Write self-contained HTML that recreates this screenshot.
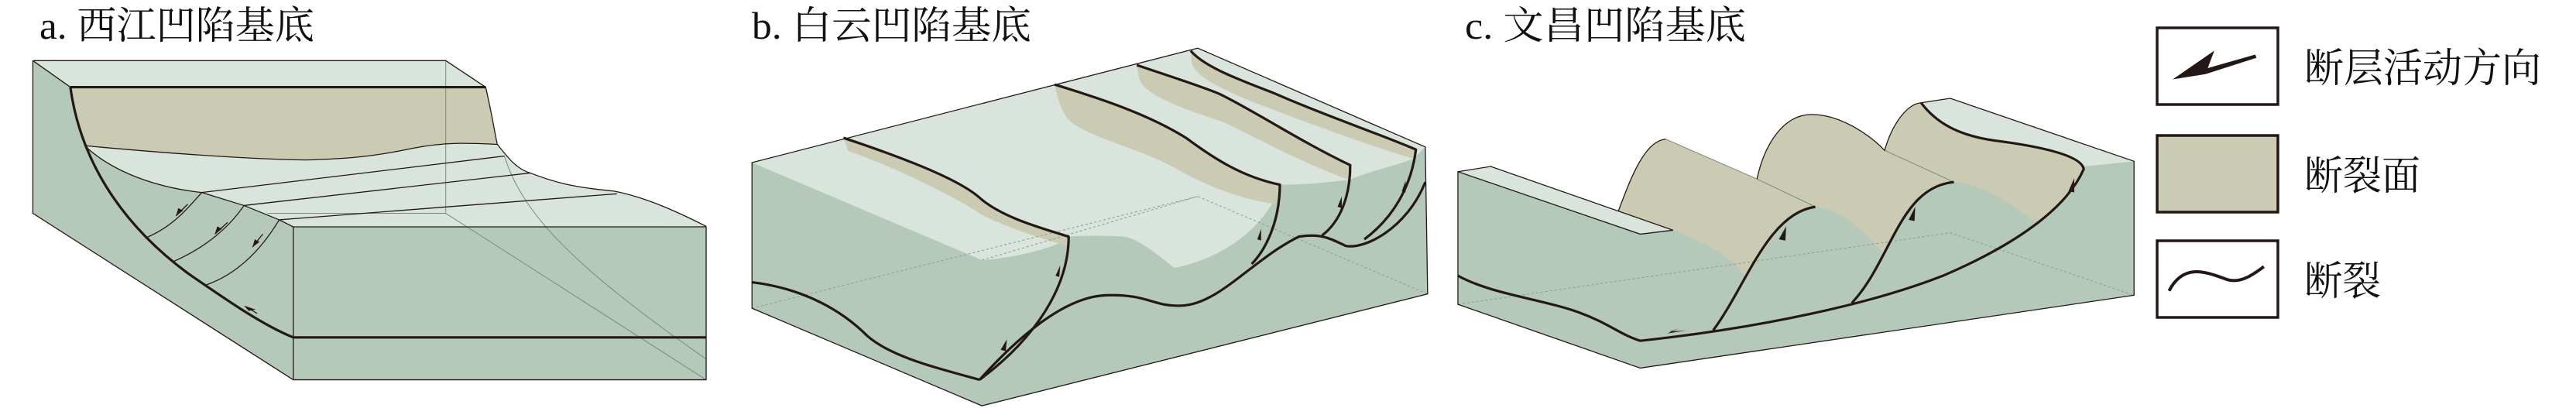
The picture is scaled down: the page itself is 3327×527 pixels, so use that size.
<!DOCTYPE html>
<html><head><meta charset="utf-8"><style>
html,body{margin:0;padding:0;background:#fff;}
svg{display:block;}
text{font-family:"Liberation Serif","Noto Serif CJK SC","Noto Sans CJK SC",serif;fill:#111;}
</style></head><body>
<svg width="3327" height="527" viewBox="0 0 3327 527" xmlns="http://www.w3.org/2000/svg">
<defs><style>
.b{fill:none;stroke:#231815;stroke-width:3.2;vector-effect:non-scaling-stroke;stroke-linejoin:round}
.t{fill:none;stroke:#231815;stroke-width:1.3;vector-effect:non-scaling-stroke}
.h{fill:none;stroke:#7a8a80;stroke-width:1;vector-effect:non-scaling-stroke}
.d{fill:none;stroke:#8a9a90;stroke-width:1;stroke-dasharray:3 3;vector-effect:non-scaling-stroke}
.g{fill:#b4c9b9}.l{fill:#d9e4dc}.n{fill:#cbcab2}
.a{fill:#231815}
</style></defs>

<!-- Titles -->
<text x="51" y="50" font-size="50" textLength="355" lengthAdjust="spacingAndGlyphs">a. 西江凹陷基底</text>
<text x="971" y="50" font-size="50" textLength="361" lengthAdjust="spacingAndGlyphs">b. 白云凹陷基底</text>
<text x="1892" y="50" font-size="50" textLength="363" lengthAdjust="spacingAndGlyphs">c. 文昌凹陷基底</text>

<!-- Panel a -->
<g transform="scale(0.606,0.336)">
<polygon class="l" points="70,233 950,233 1035,335 150,335"/>
<path class="g" d="M70,233 L150,335 C170,600 250,850 400,1050 C480,1150 560,1250 625,1297 L625,1460 L70,820 Z"/>
<path class="g" d="M180,560 L430,740 L520,790 L595,845 L625,872 L625,1297 C560,1250 480,1150 400,1050 C250,850 170,600 180,560 Z"/>
<path class="n" d="M150,335 L1035,335 C1050,450 1055,520 1060,555 C1000,550 950,545 880,570 C800,600 750,610 650,615 C500,610 300,580 180,560 C165,480 155,400 150,335 Z"/>
<path class="l" d="M180,560 C300,580 500,610 650,615 C750,610 800,600 880,570 C950,545 1000,550 1060,555 C1080,600 1100,650 1130,665 C1180,700 1220,720 1310,735 C1380,760 1450,820 1505,870 L625,872 L595,845 L520,790 L430,740 C330,720 240,660 180,560 Z"/>
<rect class="g" x="625" y="872" width="880" height="588"/>
<path class="h" d="M950,233 L950,820 L570,820 M950,820 L1505,1460 M1075,600 C1110,800 1200,1000 1505,1380"/>
<path class="t" d="M70,233 L950,233 L1035,335 M70,233 L150,335 M70,233 L70,820 L625,1460 L1505,1460 L1505,872 L625,872 L625,1460"/>
<path class="t" d="M1035,335 C1050,450 1055,520 1060,555 C1080,600 1100,650 1130,665 C1180,700 1220,720 1310,735 C1380,760 1450,820 1505,870"/>
<path class="t" d="M180,560 C300,580 500,610 650,615 C750,610 800,600 880,570 C950,545 1000,550 1060,555"/>
<path class="t" d="M180,560 C240,660 330,720 430,740 M430,740 L1075,600 M520,790 L1130,665 M595,845 L1315,745 M430,740 L520,790 L595,845 L625,872"/>
<path class="t" d="M430,740 C400,800 370,870 310,915 M520,790 C490,870 440,950 370,1005 M595,845 C560,950 510,1050 440,1095"/>
<path class="b" d="M150,335 L1035,335 M150,335 C170,600 250,850 400,1050 C480,1150 560,1250 625,1297 L1505,1297"/>
<path class="t" d="M400,785 L375,830 M485,855 L458,900 M560,900 L538,950 M525,1180 L548,1205"/>
<path class="a" d="M375,830 L380,800 L390,810 Z M458,900 L463,870 L473,880 Z M538,950 L543,920 L553,930 Z M520,1175 L545,1190 L530,1195 Z"/>
</g>

<!-- Panel b -->
<g transform="translate(950,0) scale(0.606,0.336)">
<polygon class="g" points="35,625 985,185 1470,565 1475,1130 525,1560 35,1185"/>
<path class="l" d="M35,625 L985,185 L1470,565 L1445,610 C1400,640 1350,660 1310,690 C1250,705 1200,710 1160,710 C1140,850 1050,990 935,1030 C900,980 860,920 830,910 C790,905 740,905 710,910 C690,950 600,990 525,1000 Z"/>
<path class="n" d="M230,530 C330,590 470,680 520,760 C570,840 660,880 710,910 L705,945 C640,910 570,870 520,820 C470,760 350,650 240,580 Z"/>
<path class="n" d="M680,325 C780,380 880,440 960,530 C1020,610 1080,680 1160,710 L1150,785 C1060,760 990,700 930,640 C860,570 740,520 710,460 C690,420 685,360 680,325 Z"/>
<path class="n" d="M855,250 C920,290 990,330 1030,360 C1100,420 1200,540 1310,635 L1305,690 C1200,620 1100,520 1040,470 C960,420 870,370 860,300 Z"/>
<path class="n" d="M970,195 C1000,260 1080,310 1150,360 C1250,440 1380,520 1450,575 L1445,610 C1350,560 1200,460 1100,390 C1020,330 980,290 972,240 Z"/>
<path class="d" d="M35,1185 L985,755 L1475,1130 M525,1000 L985,755"/>
<path class="t" d="M35,625 L985,185 L1470,565 L1475,1130 L525,1560 L35,1185 Z"/>
<path class="b" d="M230,530 C330,590 470,680 520,760 C570,840 660,880 710,910 C710,1100 640,1300 520,1460"/>
<path class="b" d="M680,325 C780,380 880,440 960,530 C1020,610 1080,680 1160,710 C1160,850 1130,960 1100,1015"/>
<path class="b" d="M855,250 C920,290 990,330 1030,360 C1100,420 1200,540 1310,635 C1310,750 1290,850 1250,905"/>
<path class="b" d="M970,195 C1000,260 1080,310 1150,360 C1250,440 1380,520 1450,575 C1440,720 1400,840 1340,920"/>
<path class="b" d="M520,1460 C600,1300 700,1140 790,1135 C880,1130 890,1180 950,1175 C1030,1170 1100,1000 1200,910 C1250,895 1270,920 1300,945 C1340,960 1430,880 1470,700"/>
<path class="b" d="M35,1085 C150,1110 230,1200 280,1290 C330,1370 420,1410 520,1460"/>
<path class="a" d="M682,1060 L692,1020 L690,1065 Z M565,1345 L578,1305 L576,1350 Z M1112,920 L1120,880 L1120,925 Z M1283,795 L1292,755 L1292,800 Z M1420,735 L1428,695 L1428,740 Z"/>
</g>

<!-- Panel c -->
<g transform="translate(1850,0) scale(0.942,0.336)">
<path class="g" d="M35,660 L80,640 L255,811 C270,700 290,540 320,535 L445,688 C455,560 480,440 520,440 C560,440 600,520 620,578 C630,480 650,400 670,395 L710,378 L962,620 L962,1135 L285,1415 L35,1170 Z"/>
<path class="n" d="M255,811 C270,700 290,540 320,535 L445,688 C455,560 480,440 520,440 C560,440 600,520 620,578 C630,480 650,400 670,395 C690,470 720,520 770,540 C840,565 890,600 893,650 C880,760 850,820 830,860 L640,1050 L440,1130 C430,1020 390,950 330,885 Z"/>
<path class="g" d="M525,795 C560,800 600,900 640,1050 L575,1165 C500,1220 430,1260 385,1270 C430,1100 470,820 525,795 Z"/>
<path class="g" d="M715,700 C760,710 800,800 830,860 L700,1060 L575,1165 C620,1000 650,720 715,700 Z"/>
<polygon class="l" points="35,660 80,640 330,885 285,900"/>
<path class="l" d="M670,395 L710,378 L962,620 L893,640 C890,600 840,565 770,540 C720,520 690,470 670,395 Z"/>
<path class="d" d="M35,1170 L710,895 L962,1135"/>
<path class="h" d="M320,535 L445,688 L525,795 M620,578 L715,700"/>
<path class="t" d="M35,660 L80,640 L330,885 L285,900 L35,660 L35,1170 L285,1415 L962,1135 L962,620 L710,378 L670,395"/>
<path class="t" d="M255,811 C270,700 290,540 320,535 M445,688 C455,560 480,440 520,440 C560,440 600,520 620,578 C630,480 650,400 670,395"/>
<path class="b" d="M35,1060 C80,1130 150,1150 200,1200 C240,1240 260,1290 285,1310 C450,1260 600,1170 700,1060 C800,940 870,800 893,650 C890,600 840,565 770,540 C720,520 690,470 670,395"/>
<path class="b" d="M385,1270 C430,1100 460,820 525,795"/>
<path class="b" d="M575,1165 C630,1000 640,720 715,700"/>
<path class="a" d="M475,920 L485,870 L484,925 Z M653,845 L662,795 L661,850 Z M872,735 L880,685 L880,740 Z M322,1282 L348,1270 L325,1275 L338,1262 Z"/>
</g>

<!-- Legend -->
<rect x="2786" y="36" width="156" height="99" fill="#fff" stroke="#231815" stroke-width="3.5"/>
<rect x="2786" y="175" width="156" height="99" fill="#cbcab2" stroke="#231815" stroke-width="3.5"/>
<rect x="2786" y="311" width="156" height="99" fill="#fff" stroke="#231815" stroke-width="3.5"/>
<g transform="translate(1850,0) scale(0.942,0.336)">
<path class="a" d="M1015,305 L1072,195 L1063,262 L1128,210 L1130,222 L1060,285 Z"/>
<path fill="none" stroke="#231815" stroke-width="4" vector-effect="non-scaling-stroke" d="M1010,1118 C1030,1010 1060,1045 1090,1075 C1110,1092 1130,1045 1140,1025"/>
</g>
<text x="2976" y="106" font-size="52" textLength="306" lengthAdjust="spacingAndGlyphs">断层活动方向</text>
<text x="2976" y="245" font-size="52" textLength="150" lengthAdjust="spacingAndGlyphs">断裂面</text>
<text x="2976" y="381" font-size="52" textLength="99" lengthAdjust="spacingAndGlyphs">断裂</text>
</svg>
</body></html>
